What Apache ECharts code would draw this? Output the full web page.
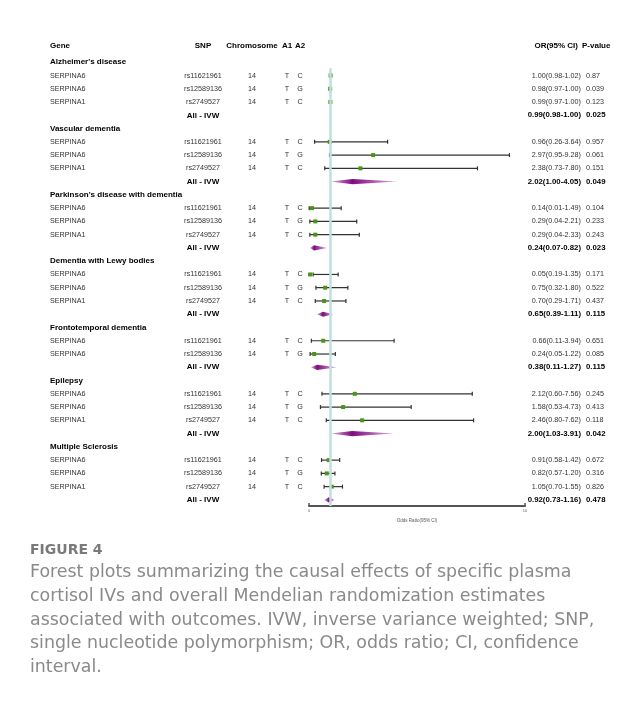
<!DOCTYPE html>
<html>
<head>
<meta charset="utf-8">
<script src="https://cdn.jsdelivr.net/npm/echarts@6/dist/echarts.min.js"></script>
<style>
  html, body { margin: 0; padding: 0; background: #fff; }
  #chart { width: 641px; height: 701px; }
</style>
</head>
<body>
<div id="chart"></div>
<script>
// ---- Outcomes and instruments ----
const diseases = [
  "Alzheimer's disease",
  "Vascular dementia",
  "Parkinson's disease with dementia",
  "Dementia with Lewy bodies",
  "Frontotemporal dementia",
  "Epilepsy",
  "Multiple Sclerosis"
];
// outcome index of every SNP row
const snpDisease = [0, 0, 0, 1, 1, 1, 2, 2, 2, 3, 3, 3, 4, 4, 5, 5, 5, 6, 6, 6];
const snpGene = [
  "SERPINA6", "SERPINA6", "SERPINA1",
  "SERPINA6", "SERPINA6", "SERPINA1",
  "SERPINA6", "SERPINA6", "SERPINA1",
  "SERPINA6", "SERPINA6", "SERPINA1",
  "SERPINA6", "SERPINA6",
  "SERPINA6", "SERPINA6", "SERPINA1",
  "SERPINA6", "SERPINA6", "SERPINA1"
];
const snpId = [
  "rs11621961", "rs12589136", "rs2749527",
  "rs11621961", "rs12589136", "rs2749527",
  "rs11621961", "rs12589136", "rs2749527",
  "rs11621961", "rs12589136", "rs2749527",
  "rs11621961", "rs12589136",
  "rs11621961", "rs12589136", "rs2749527",
  "rs11621961", "rs12589136", "rs2749527"
];
const snpChrom = "14";
const snpA1 = "T";
const snpA2 = ["C", "G", "C", "C", "G", "C", "C", "G", "C", "C", "G", "C", "C", "G", "C", "G", "C", "C", "G", "C"];

// ---- Per-SNP odds ratios ----
const snpOR   = [1.00, 0.98, 0.99, 0.96, 2.97, 2.38, 0.14, 0.29, 0.29, 0.05, 0.75, 0.70, 0.66, 0.24, 2.12, 1.58, 2.46, 0.91, 0.82, 1.05];
const snpLow  = [0.98, 0.97, 0.97, 0.26, 0.95, 0.73, 0.01, 0.04, 0.04, 0.19, 0.32, 0.29, 0.11, 0.05, 0.60, 0.53, 0.80, 0.58, 0.57, 0.70];
const snpHigh = [1.02, 1.00, 1.00, 3.64, 9.28, 7.80, 1.49, 2.21, 2.33, 1.35, 1.80, 1.71, 3.94, 1.22, 7.56, 4.73, 7.62, 1.42, 1.20, 1.55];
const snpP    = ["0.87", "0.039", "0.123", "0.957", "0.061", "0.151", "0.104", "0.233", "0.243", "0.171", "0.522", "0.437", "0.651", "0.085", "0.245", "0.413", "0.118", "0.672", "0.316", "0.826"];

// ---- Inverse variance weighted estimates ----
const ivwOR   = [0.99, 2.02, 0.24, 0.65, 0.38, 2.00, 0.92];
const ivwLow  = [0.98, 1.00, 0.07, 0.39, 0.11, 1.03, 0.73];
const ivwHigh = [1.00, 4.05, 0.82, 1.11, 1.27, 3.91, 1.16];
const ivwP    = ["0.025", "0.049", "0.023", "0.115", "0.115", "0.042", "0.478"];

// ---- Axis ----
const axisMin = 0;
const axisMax = 10;
const axisStep = 10;
const axisTitle = "Odds Ratio(95% CI)";
const headers = ["Gene", "SNP", "Chromosome", "A1", "A2", "OR(95% CI)", "P-value"];
const ivwLabel = "All - IVW";

const captionTitle = "FIGURE 4";
const captionLines = [
  "Forest plots summarizing the causal effects of specific plasma",
  "cortisol IVs and overall Mendelian randomization estimates",
  "associated with outcomes. IVW, inverse variance weighted; SNP,",
  "single nucleotide polymorphism; OR, odds ratio; CI, confidence",
  "interval."
];

// ---- Layout ----
const FONT = '"Liberation Sans", Arial, sans-serif';
const CAPTION_FONT = '"DejaVu Sans", "Open Sans", sans-serif';
const col = { gene: 50, snp: 203, chrom: 252, a1: 287, a2: 300, or: 581, p: 586 };
const fmt = v => v.toFixed(2);
const ciText = (o, l, h) => fmt(o) + "(" + fmt(l) + "-" + fmt(h) + ")";

// Assign row indices: title, SNP rows, then the IVW row for each outcome
const texts = [];   // {r, x, text, align, weight, size, color}
const ciData = [];  // [or, row, low, high]
const ivwData = []; // [or, row, low, high]
const addText = (r, x, text, align, bold, size) =>
  texts.push({ r, x, text, align, weight: bold ? "bold" : "normal", size, color: bold ? "#000" : "#333" });

const headerRow = -0.25;
addText(headerRow, col.gene, headers[0], "left", true, 8);
addText(headerRow, col.snp, headers[1], "center", true, 8);
addText(headerRow, col.chrom, headers[2], "center", true, 8);
addText(headerRow, col.a1, headers[3], "center", true, 8);
addText(headerRow, col.a2, headers[4], "center", true, 8);
addText(headerRow, col.or - 3, headers[5], "right", true, 8);
addText(headerRow, col.p - 4, headers[6], "left", true, 8);

let row = 1;
diseases.forEach((name, d) => {
  addText(row, col.gene, name, "left", true, 8);
  row++;
  snpDisease.forEach((dd, i) => {
    if (dd !== d) return;
    addText(row, col.gene, snpGene[i], "left", false, 7.2);
    addText(row, col.snp, snpId[i], "center", false, 7.2);
    addText(row, col.chrom, snpChrom, "center", false, 7.2);
    addText(row, col.a1, snpA1, "center", false, 7.2);
    addText(row, col.a2, snpA2[i], "center", false, 7.2);
    addText(row, col.or, ciText(snpOR[i], snpLow[i], snpHigh[i]), "right", false, 7.2);
    addText(row, col.p, snpP[i], "left", false, 7.2);
    ciData.push([snpOR[i], row, snpLow[i], snpHigh[i]]);
    row++;
  });
  addText(row, col.snp, ivwLabel, "center", true, 8);
  addText(row, col.or, ciText(ivwOR[d], ivwLow[d], ivwHigh[d]), "right", true, 7.8);
  addText(row, col.p, ivwP[d], "left", true, 7.8);
  ivwData.push([ivwOR[d], row, ivwLow[d], ivwHigh[d]]);
  row++;
});
const lastRow = row - 1;

const chart = echarts.init(document.getElementById("chart"), null, { renderer: "canvas" });

const option = {
  backgroundColor: "#fff",
  animation: false,
  grid: { left: 309, top: 49, width: 216, height: 457 },
  xAxis: {
    type: "value",
    position: "bottom",
    min: axisMin,
    max: axisMax,
    interval: axisStep,
    splitLine: { show: false },
    axisLine: { show: true, onZero: false, lineStyle: { color: "#555", width: 2 } },
    axisTick: { show: true, inside: true, length: 3, lineStyle: { color: "#555", width: 1.5 } },
    axisLabel: { fontSize: 4, color: "#666", margin: 3, fontFamily: FONT },
    name: axisTitle,
    nameLocation: "middle",
    nameGap: 10,
    nameTextStyle: { fontSize: 4.5, color: "#555", fontFamily: FONT }
  },
  yAxis: {
    type: "value",
    inverse: true,
    min: 0,
    max: lastRow + 0.46,
    show: false
  },
  graphic: [
    {
      type: "text", left: 30, top: 543,
      style: { text: captionTitle, font: "bold 14px " + CAPTION_FONT, fill: "#7a7a7a" }
    },
    ...captionLines.map((t, i) => ({
      type: "text", left: 30, top: 564 + i * 23.8,
      style: { text: t, font: "17.4px " + CAPTION_FONT, fill: "#8a8a8a" }
    }))
  ],
  series: [
    {
      // null-effect reference line at OR = 1
      type: "line",
      data: [],
      z: 1,
      silent: true,
      markLine: {
        silent: true,
        symbol: "none",
        label: { show: false },
        lineStyle: { color: "#bfe0df", width: 2.5, type: "solid" },
        data: [[{ coord: [1, 1.45] }, { coord: [1, lastRow + 0.46] }]]
      }
    },
    {
      // confidence intervals with end caps
      type: "custom",
      z: 3,
      clip: false,
      data: ciData,
      renderItem: (params, api) => {
        const r = api.value(1);
        const a = api.coord([api.value(2), r]);
        const b = api.coord([api.value(3), r]);
        const st = { stroke: "#333", lineWidth: 1.2 };
        return {
          type: "group",
          children: [
            { type: "line", shape: { x1: a[0], y1: a[1], x2: b[0], y2: b[1] }, style: st },
            { type: "line", shape: { x1: a[0], y1: a[1] - 2, x2: a[0], y2: a[1] + 2 }, style: st },
            { type: "line", shape: { x1: b[0], y1: b[1] - 2, x2: b[0], y2: b[1] + 2 }, style: st }
          ]
        };
      }
    },
    {
      // point estimates
      type: "scatter",
      z: 4,
      symbol: "rect",
      symbolSize: 4,
      itemStyle: { color: "#4a9418", opacity: 1 },
      data: ciData.map(d => [d[0], d[1]])
    },
    {
      // pooled IVW diamonds
      type: "custom",
      z: 4,
      clip: false,
      data: ivwData,
      renderItem: (params, api) => {
        const r = api.value(1);
        const o = api.coord([api.value(0), r]);
        const a = api.coord([api.value(2), r]);
        const b = api.coord([api.value(3), r]);
        const span = Math.max(b[0] - a[0], 0.01);
        const p = Math.min(Math.max((o[0] - a[0]) / span, 0.01), 0.99);
        const h = 2.6;
        return {
          type: "polygon",
          shape: { points: [[a[0] - 0.5, a[1]], [o[0], o[1] - h], [b[0] + 0.5, b[1]], [o[0], o[1] + h]] },
          style: {
            fill: new echarts.graphic.LinearGradient(0, 0, 1, 0, [
              { offset: 0, color: "#dcb0dc" },
              { offset: p, color: "#7e0b7e" },
              { offset: 1, color: "#dcb0dc" }
            ])
          }
        };
      }
    },
    {
      // table text columns
      type: "custom",
      z: 5,
      clip: false,
      silent: true,
      data: texts.map((t, i) => [1, t.r, i]),
      renderItem: (params, api) => {
        const t = texts[api.value(2)];
        const y = api.coord([1, api.value(1)])[1];
        return {
          type: "text",
          style: {
            x: t.x, y: y,
            text: t.text,
            align: t.align,
            verticalAlign: "middle",
            font: t.weight + " " + t.size + "px " + FONT,
            fill: t.color
          }
        };
      }
    }
  ]
};

chart.setOption(option);
</script>
</body>
</html>
